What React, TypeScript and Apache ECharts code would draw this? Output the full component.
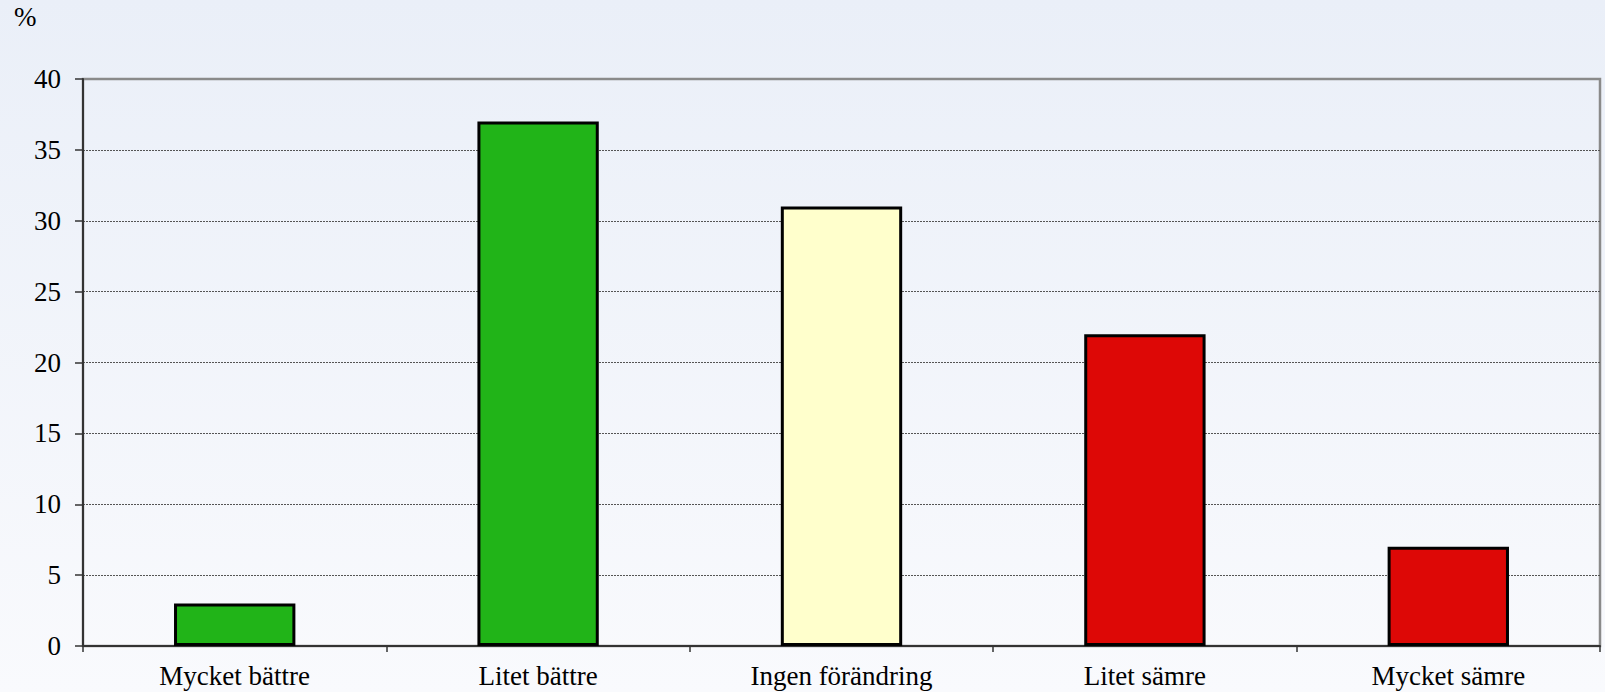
import React, { useEffect, useRef } from "react";
import * as echarts from "echarts";

const categories = ["Mycket bättre", "Litet bättre", "Ingen förändring", "Litet sämre", "Mycket sämre"];
const values = [3, 37, 31, 22, 7];
const barColors = ["#21B418", "#21B418", "#FFFFCC", "#DD0806", "#DD0806"];
const unitLabel = "%";

export default function App() {
  const ref = useRef<HTMLDivElement>(null);
  useEffect(() => {
    if (!ref.current) return;
    const chart = echarts.init(ref.current, null, { renderer: "svg" });
    const font = "'Liberation Serif', 'Times New Roman', serif";
    chart.setOption({
      animation: false,
      backgroundColor: new echarts.graphic.LinearGradient(0, 0, 0, 1, [
        { offset: 0, color: "#EAEFF8" },
        { offset: 1, color: "#F9FAFD" },
      ]),
      grid: {
        left: 83,
        right: 5,
        top: 79,
        bottom: 46,
        show: true,
        borderColor: "#8A8A8A",
        borderWidth: 2.5,
        backgroundColor: "transparent",
      },
      graphic: [
        {
          type: "text",
          left: 14,
          top: 3,
          style: { text: unitLabel, font: `27px ${font}`, fill: "#000" },
        },
      ],
      xAxis: {
        type: "category",
        data: categories,
        axisLine: { lineStyle: { color: "#333", width: 2 } },
        axisTick: { show: true, length: 6, lineStyle: { color: "#333", width: 1.5 } },
        axisLabel: { fontFamily: font, fontSize: 27, color: "#000", margin: 16 },
      },
      yAxis: {
        type: "value",
        min: 0,
        max: 40,
        interval: 5,
        axisLine: { show: true, lineStyle: { color: "#333", width: 2 } },
        axisTick: { show: true, length: 8, lineStyle: { color: "#333", width: 1.5 } },
        axisLabel: { fontFamily: font, fontSize: 27, color: "#000", margin: 22 },
        splitLine: {
          show: true,
          showMaxLine: false,
          showMinLine: false,
          lineStyle: { color: "#555", type: [2, 1], width: 1 },
        },
      },
      series: [
        {
          type: "bar",
          data: values.map((v, i) => ({
            value: v,
            itemStyle: { color: barColors[i] },
          })),
          barWidth: "40%",
          itemStyle: { borderColor: "#000", borderWidth: 3 },
        },
      ],
    });
    return () => chart.dispose();
  }, []);
  return (
    <div
      ref={ref}
      style={{ position: "fixed", left: 0, top: 0, width: 1605, height: 692 }}
    />
  );
}
